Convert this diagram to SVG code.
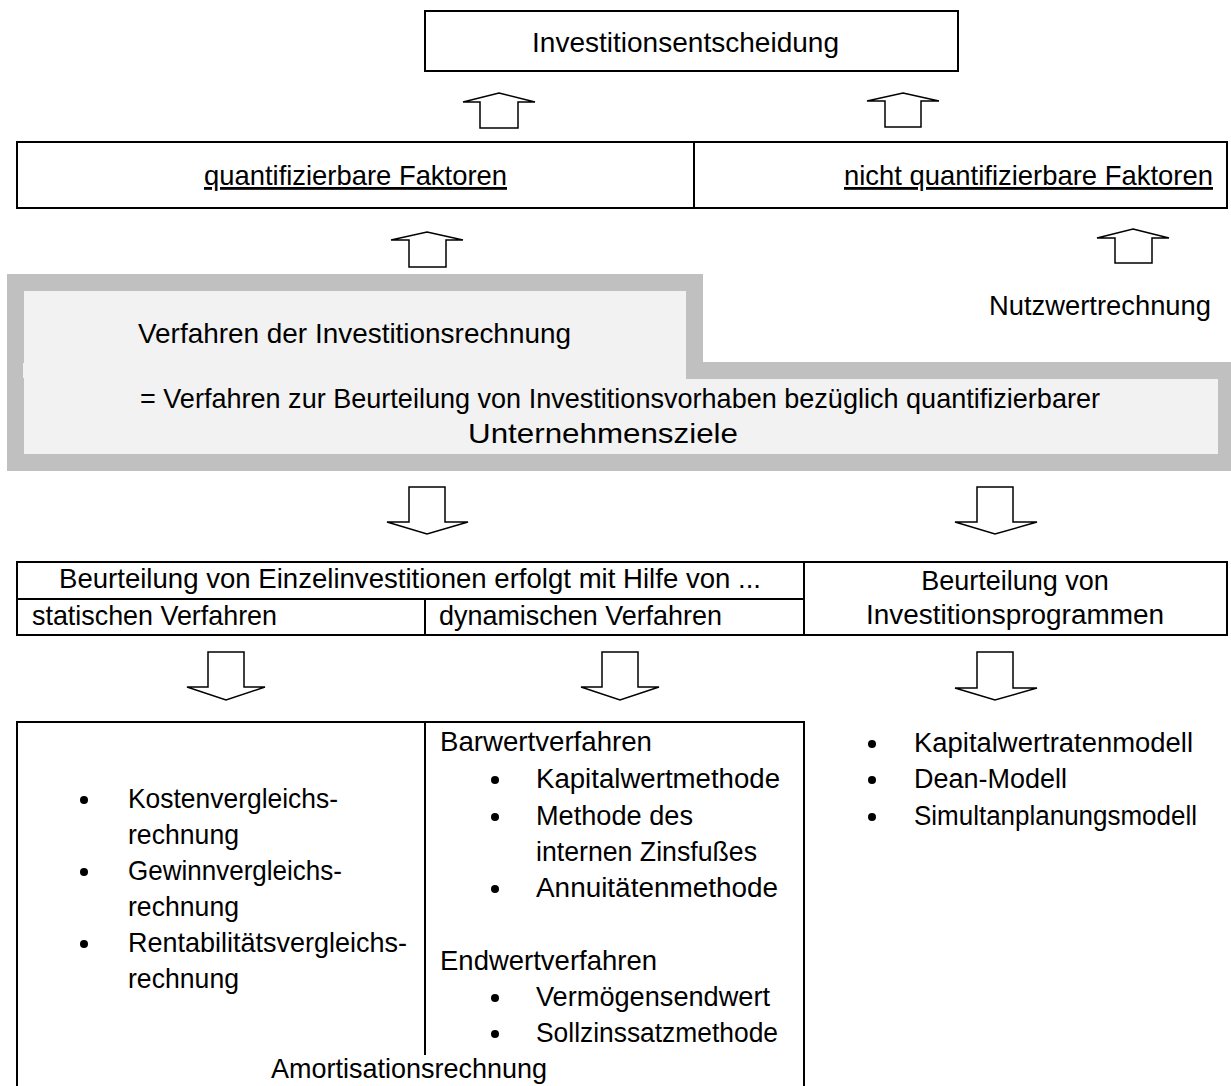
<svg xmlns="http://www.w3.org/2000/svg" width="1231" height="1086" viewBox="0 0 1231 1086">
<style>
  text { font-family: "Liberation Sans", Arial, sans-serif; font-size: 27px; fill: #000; }
  .n { font-size: 28px; }
  .c { text-anchor: middle; }
  .u { text-decoration: underline; }
  .box { fill: #fff; stroke: #000; stroke-width: 2; }
  .ln { stroke: #000; stroke-width: 2; fill: none; }
  .arr { fill: #fff; stroke: #000; stroke-width: 1.5; stroke-linejoin: miter; }
  .dot { fill: #000; }
</style>
<rect width="1231" height="1086" fill="#fff"/>

<g id="investitionsentscheidung">
  <rect class="box" x="425" y="11" width="533" height="60"/>
  <text class="n" x="532" y="52" textLength="307" lengthAdjust="spacingAndGlyphs">Investitionsentscheidung</text>
</g>

<g id="faktoren">
  <rect class="box" x="17" y="142" width="1210" height="66"/>
  <line class="ln" x1="694" y1="142" x2="694" y2="208"/>
  <text class="n u" x="204" y="185" textLength="303" lengthAdjust="spacingAndGlyphs">quantifizierbare Faktoren</text>
  <text class="n u" x="844" y="185" textLength="369" lengthAdjust="spacingAndGlyphs">nicht quantifizierbare Faktoren</text>
</g>

<g id="verfahren">
  <path d="M7,274 H703 V362 H1231 V471 H7 Z" fill="#c0c0c0"/>
  <path d="M24,291 H686 V379 H1218 V454 H24 Z" fill="#f2f2f2"/>
  <rect x="23" y="363" width="2" height="15" fill="#f2f2f2"/>
  <text class="n" x="138" y="343" textLength="433" lengthAdjust="spacingAndGlyphs">Verfahren der Investitionsrechnung</text>
  <text class="n" x="140" y="408" textLength="960" lengthAdjust="spacingAndGlyphs">= Verfahren zur Beurteilung von Investitionsvorhaben bezüglich quantifizierbarer</text>
  <text class="n" x="468" y="443" textLength="270" lengthAdjust="spacingAndGlyphs">Unternehmensziele</text>
</g>

<g id="nutzwertrechnung">
  <text x="989" y="315" textLength="222" lengthAdjust="spacingAndGlyphs">Nutzwertrechnung</text>
</g>

<g id="beurteilung">
  <rect class="box" x="17" y="562" width="1210" height="73"/>
  <line class="ln" x1="17" y1="599" x2="804" y2="599"/>
  <line class="ln" x1="804" y1="562" x2="804" y2="635"/>
  <line class="ln" x1="425" y1="599" x2="425" y2="635"/>
  <text class="n" x="59" y="588" textLength="702" lengthAdjust="spacingAndGlyphs">Beurteilung von Einzelinvestitionen erfolgt mit Hilfe von ...</text>
  <text class="n" x="32" y="625" textLength="245" lengthAdjust="spacingAndGlyphs">statischen Verfahren</text>
  <text class="n" x="439" y="625" textLength="283" lengthAdjust="spacingAndGlyphs">dynamischen Verfahren</text>
  <text class="c" x="1015" y="590">Beurteilung von</text>
  <text class="c" x="1015" y="624" textLength="298" lengthAdjust="spacingAndGlyphs">Investitionsprogrammen</text>
</g>

<g id="methoden">
  <path class="ln" d="M17,1090 V722 H804 V1090"/>
  <line class="ln" x1="425" y1="722" x2="425" y2="1055"/>
  <circle class="dot" cx="84" cy="800" r="4"/>
  <circle class="dot" cx="84" cy="872" r="4"/>
  <circle class="dot" cx="84" cy="944" r="4"/>
  <text class="n" x="128" y="808" textLength="210" lengthAdjust="spacingAndGlyphs">Kostenvergleichs-</text>
  <text class="n" x="128" y="844" textLength="111" lengthAdjust="spacingAndGlyphs">rechnung</text>
  <text class="n" x="128" y="880" textLength="214" lengthAdjust="spacingAndGlyphs">Gewinnvergleichs-</text>
  <text class="n" x="128" y="916" textLength="111" lengthAdjust="spacingAndGlyphs">rechnung</text>
  <text class="n" x="128" y="952" textLength="279" lengthAdjust="spacingAndGlyphs">Rentabilitätsvergleichs-</text>
  <text class="n" x="128" y="988" textLength="111" lengthAdjust="spacingAndGlyphs">rechnung</text>

  <text class="n" x="440" y="751" textLength="212" lengthAdjust="spacingAndGlyphs">Barwertverfahren</text>
  <circle class="dot" cx="495" cy="780" r="4"/>
  <circle class="dot" cx="495" cy="817" r="4"/>
  <circle class="dot" cx="495" cy="889" r="4"/>
  <text x="536" y="788" textLength="244" lengthAdjust="spacingAndGlyphs">Kapitalwertmethode</text>
  <text x="536" y="825" textLength="157" lengthAdjust="spacingAndGlyphs">Methode des</text>
  <text x="536" y="861" textLength="221" lengthAdjust="spacingAndGlyphs">internen Zinsfußes</text>
  <text x="536" y="897" textLength="242" lengthAdjust="spacingAndGlyphs">Annuitätenmethode</text>
  <text class="n" x="440" y="970" textLength="217" lengthAdjust="spacingAndGlyphs">Endwertverfahren</text>
  <circle class="dot" cx="495" cy="998" r="4"/>
  <circle class="dot" cx="495" cy="1034" r="4"/>
  <text x="536" y="1006" textLength="234" lengthAdjust="spacingAndGlyphs">Vermögensendwert</text>
  <text x="536" y="1042" textLength="242" lengthAdjust="spacingAndGlyphs">Sollzinssatzmethode</text>

  <text class="n" x="271" y="1078" textLength="276" lengthAdjust="spacingAndGlyphs">Amortisationsrechnung</text>
</g>

<g id="programme">
  <circle class="dot" cx="872" cy="744" r="4"/>
  <circle class="dot" cx="872" cy="780" r="4"/>
  <circle class="dot" cx="872" cy="817" r="4"/>
  <text x="914" y="752" textLength="279" lengthAdjust="spacingAndGlyphs">Kapitalwertratenmodell</text>
  <text x="914" y="788" textLength="153" lengthAdjust="spacingAndGlyphs">Dean-Modell</text>
  <text x="914" y="825" textLength="283" lengthAdjust="spacingAndGlyphs">Simultanplanungsmodell</text>
</g>

<g id="connectors">
  <polygon class="arr" points="499,93 535,102 518,102 518,128 480,128 480,102 463,102"/>
  <polygon class="arr" points="903,93 939,101 921,101 921,127 885,127 885,101 867,101"/>
  <polygon class="arr" points="427,232 463,240 446,240 446,267 409,267 409,240 391,240"/>
  <polygon class="arr" points="1133,229 1169,238 1152,238 1152,263 1115,263 1115,238 1097,238"/>
  <polygon class="arr" points="409,487 445,487 445,522 468,522 427,534 387,522 409,522"/>
  <polygon class="arr" points="977,487 1013,487 1013,522 1037,522 995,534 955,522 977,522"/>
  <polygon class="arr" points="208,652 244,652 244,687 265,687 226,700 187,687 208,687"/>
  <polygon class="arr" points="602,652 638,652 638,687 659,687 620,700 581,687 602,687"/>
  <polygon class="arr" points="977,652 1013,652 1013,688 1037,688 995,700 955,688 977,688"/>
</g>
</svg>
